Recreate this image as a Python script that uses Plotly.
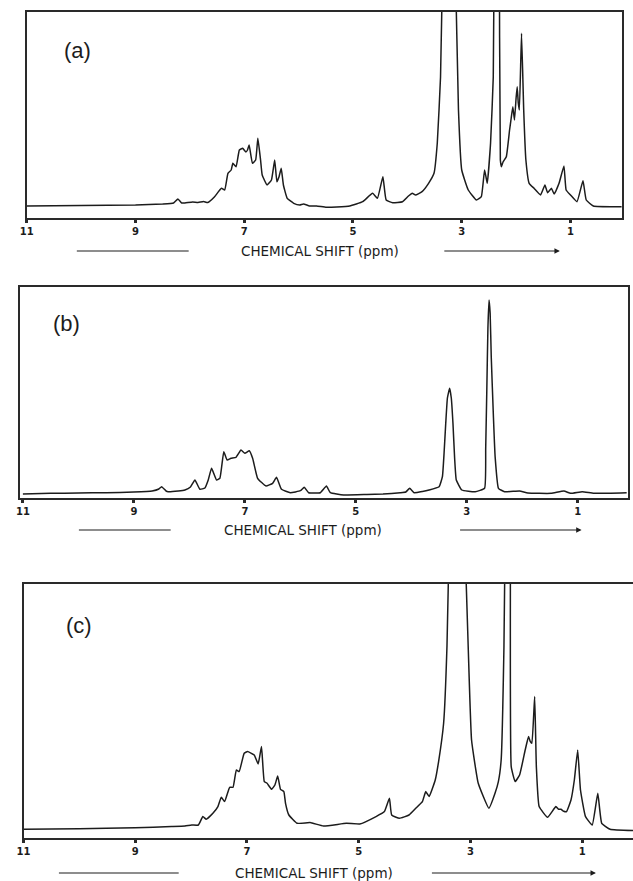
import plotly.graph_objects as go

# ---------------------------------------------------------------
# 1H NMR traces (chemical shift in ppm, relative intensity)
# ---------------------------------------------------------------
ppm_a = [11.0, 10.0, 9.0, 8.5, 8.3, 8.22, 8.15, 8.09, 7.95, 7.85, 7.75, 7.67, 7.55,
         7.42, 7.36, 7.30, 7.24, 7.21, 7.15, 7.09, 7.03, 6.97, 6.94, 6.91, 6.85, 6.79,
         6.75, 6.70, 6.67, 6.58, 6.50, 6.44, 6.40, 6.36, 6.32, 6.28, 6.21, 6.09, 5.98,
         5.91, 5.80, 5.67, 5.49, 5.30, 5.06, 4.82, 4.64, 4.55, 4.45, 4.39, 4.27, 4.09,
         3.98, 3.91, 3.85, 3.73, 3.61, 3.51, 3.45, 3.39, 3.35, 3.25, 3.12, 3.06, 3.00,
         2.88, 2.73, 2.64, 2.58, 2.55, 2.53, 2.47, 2.42, 2.40, 2.35, 2.31, 2.29, 2.27,
         2.24, 2.18, 2.12, 2.09, 2.06, 2.03, 2.00, 1.98, 1.96, 1.94, 1.90, 1.86, 1.82,
         1.76, 1.67, 1.55, 1.47, 1.42, 1.35, 1.30, 1.21, 1.12, 1.08, 1.00, 0.88, 0.77,
         0.71, 0.58, 0.06]
int_a = [12, 12.5, 13, 14, 15, 19, 15, 15, 16, 15.5, 16.5, 15.5, 21,
         29.7, 28, 44.7, 48, 54.7, 51.3, 68, 69.7, 66, 68, 73, 54.7, 58,
         79.7, 58, 43, 33, 38, 58, 36.3, 41.3, 49.7, 33, 19.7, 14.7, 13,
         14, 12, 12, 10.7, 11, 12, 16.3, 24.7, 19.7, 41.3, 18, 15.3, 16.3,
         22, 24.7, 23, 26.3, 34.7, 44.7, 74.7, 141, 260, 500, 260, 108, 48,
         28, 18, 21.3, 48, 40, 34.7, 74.7, 141, 300, 500, 300, 58, 51.3,
         56, 61.3, 88, 100, 111.3, 98, 120, 131.3, 115, 108, 184.7, 108, 58,
         34.7, 29.7, 23, 33, 25.3, 29.7, 24, 34.7, 52, 28, 23, 16.3, 37.3,
         18, 12, 11.3]

ppm_b = [11.0, 10.5, 10.0, 9.5, 9.0, 8.67, 8.55, 8.5, 8.42, 8.38, 8.2, 8.08, 7.98,
         7.90, 7.81, 7.72, 7.66, 7.60, 7.51, 7.45, 7.38, 7.32, 7.25, 7.16, 7.07, 7.00,
         6.92, 6.86, 6.77, 6.62, 6.50, 6.43, 6.34, 6.18, 6.00, 5.93, 5.85, 5.64, 5.53,
         5.46, 5.22, 4.80, 4.51, 4.20, 4.10, 4.03, 3.95, 3.80, 3.68, 3.50, 3.44, 3.41,
         3.38, 3.35, 3.31, 3.28, 3.25, 3.22, 3.19, 3.09, 2.85, 2.68, 2.66, 2.64, 2.62,
         2.60, 2.58, 2.56, 2.52, 2.49, 2.43, 2.32, 2.05, 1.90, 1.48, 1.25, 1.13, 0.92,
         0.71, 0.12]
int_b = [4, 4.7, 5, 5.3, 6, 7, 9, 11.3, 7, 6.3, 7, 8, 11,
         18, 8.7, 10, 18, 29.7, 18, 19.7, 46.3, 38, 39.7, 40.7, 48, 44.7,
         47.3, 39.7, 19.7, 12, 14.7, 20.7, 8.7, 5.3, 7.3, 10.7, 5.3, 5.3, 12,
         5.3, 3, 3.5, 4, 5.3, 6, 9.7, 5.3, 6.5, 8, 11.3, 21.3, 45,
         74.7, 100, 109.7, 100, 74.7, 40, 18, 8, 6.3, 9.7, 50, 108, 170,
         198, 185, 141.3, 80, 41.3, 9.7, 6.3, 7, 5, 4.7, 7, 4.7, 6.3,
         4.7, 5.3]

ppm_c = [11.0, 10.0, 9.52, 9.0, 8.35, 8.11, 7.99, 7.87, 7.79, 7.73, 7.61, 7.52, 7.46,
         7.40, 7.31, 7.25, 7.19, 7.14, 7.05, 6.99, 6.87, 6.80, 6.74, 6.69, 6.64, 6.56,
         6.50, 6.45, 6.40, 6.34, 6.31, 6.25, 6.10, 5.87, 5.63, 5.22, 4.98, 4.69, 4.54,
         4.45, 4.41, 4.27, 4.10, 3.98, 3.86, 3.80, 3.74, 3.63, 3.57, 3.48, 3.42, 3.38,
         3.25, 3.10, 3.04, 2.98, 2.86, 2.67, 2.56, 2.50, 2.45, 2.40, 2.36, 2.32, 2.285,
         2.27, 2.20, 2.12, 2.02, 1.96, 1.93, 1.90, 1.85, 1.82, 1.77, 1.62, 1.47, 1.42,
         1.38, 1.33, 1.28, 1.20, 1.14, 1.08, 1.03, 0.94, 0.82, 0.72, 0.65, 0.50, 0.09]
int_c = [9, 9.5, 10, 10.5, 11.7, 12.3, 13.3, 13.3, 21.7, 19, 25, 31.7, 41,
         36.7, 51, 51, 68.3, 66.7, 85, 86.7, 83.3, 74.3, 91.7, 56.7, 55, 49,
         53.3, 62.3, 49, 46.7, 35, 23.3, 15, 15.7, 12.3, 15, 14.3, 21.7, 26.7,
         40, 23.3, 20, 23.3, 30, 36.7, 46.7, 41.7, 58.3, 76.7, 115, 191.7, 300,
         600, 300, 191.7, 98.3, 55, 30, 45, 56.7, 78.3, 191.7, 400, 500, 300,
         71.7, 56.7, 63.3, 88.3, 101.7, 97, 95, 141.7, 71.7, 31.7, 21, 31.7, 29,
         29, 27, 26.7, 38.3, 58.3, 88.3, 48.3, 21.7, 13.3, 45, 15, 9, 7.7]

tick_vals = [11, 9, 7, 5, 3, 1]
tick_text = ["11", "9", "7", "5", "3", "1"]
panel_labels = ["(a)", "(b)", "(c)"]
axis_title = "CHEMICAL SHIFT (ppm)"

W, H = 633, 881
INK = "#1c1c1c"
FRAME = "#2a2a2a"


def px_x(x):
    return x / W


def px_y(y):
    return 1 - y / H


# panel geometry in page pixels: left, right, top, bottom(axis line)
panels = [
    dict(l=20, r=622, t=12, b=218, xr=[11.0, 0.05], yr=[0, 206], mirror_y=True,
         lab=(71, 50), title=(317, 251), lline=(70.6, 183.7), rarrow=(442, 559), ly=251),
    dict(l=12.7, r=627.7, t=287, b=498, xr=[11.06, 0.1], yr=[0, 211], mirror_y=True,
         lab=(60.5, 323), title=(299, 530), lline=(72.7, 165.5), rarrow=(458, 581), ly=530),
    dict(l=16.7, r=633, t=584, b=838.3, xr=[11.0, 0.09], yr=[0, 254.3], mirror_y=False,
         lab=(72.7, 625), title=(310, 873), lline=(52.5, 173.6), rarrow=(430, 595.5), ly=873),
]

series = [(ppm_a, int_a), (ppm_b, int_b), (ppm_c, int_c)]

fig = go.Figure()
layout = dict(
    width=W, height=H,
    margin=dict(l=0, r=0, t=0, b=0),
    paper_bgcolor="white", plot_bgcolor="white",
    showlegend=False,
    annotations=[], shapes=[],
)

for i, (p, (xs, ys)) in enumerate(zip(panels, series), start=1):
    xa = "x" if i == 1 else f"x{i}"
    ya = "y" if i == 1 else f"y{i}"
    fig.add_trace(go.Scatter(
        x=xs, y=ys, mode="lines", xaxis=xa, yaxis=ya,
        line=dict(color=INK, width=1.5, shape="spline", smoothing=0.35),
        hoverinfo="skip",
    ))
    xkey = "xaxis" if i == 1 else f"xaxis{i}"
    ykey = "yaxis" if i == 1 else f"yaxis{i}"
    layout[xkey] = dict(
        domain=[px_x(p["l"]), min(1.0, px_x(p["r"]))],
        range=p["xr"], anchor=ya,
        showgrid=False, zeroline=False,
        showline=True, linecolor=FRAME, linewidth=1.5, mirror=True,
        ticks="outside", ticklen=3, tickwidth=2.5, tickcolor=FRAME,
        tickvals=tick_vals, ticktext=tick_text,
        ticklabelstandoff=0,
        tickfont=dict(family="DejaVu Sans", size=10, color=INK, weight="bold"),
    )
    layout[ykey] = dict(
        domain=[px_y(p["b"]), px_y(p["t"])],
        range=p["yr"], anchor=xa,
        showgrid=False, zeroline=False,
        showline=True, linecolor=FRAME, linewidth=1.5, mirror=p["mirror_y"],
        showticklabels=False, ticks="",
    )

    # panel tag
    layout["annotations"].append(dict(
        text=panel_labels[i - 1], xref="paper", yref="paper",
        x=px_x(p["lab"][0]), y=px_y(p["lab"][1]),
        xanchor="center", yanchor="middle", showarrow=False,
        font=dict(family="Liberation Sans", size=22, color=INK),
    ))
    # axis caption
    layout["annotations"].append(dict(
        text=axis_title, xref="paper", yref="paper",
        x=px_x(p["title"][0]), y=px_y(p["title"][1]),
        xanchor="center", yanchor="middle", showarrow=False,
        font=dict(family="DejaVu Sans", size=13.5, color=INK),
    ))
    # plain rule to the left of the caption
    layout["shapes"].append(dict(
        type="line", xref="paper", yref="paper",
        x0=px_x(p["lline"][0]), x1=px_x(p["lline"][1]),
        y0=px_y(p["ly"]), y1=px_y(p["ly"]),
        line=dict(color=INK, width=1.2),
    ))
    # arrow to the right of the caption
    x0, x1 = p["rarrow"]
    layout["annotations"].append(dict(
        text="", xref="paper", yref="paper",
        x=px_x(x1), y=px_y(p["ly"]),
        ax=-(x1 - x0), ay=0, axref="pixel", ayref="pixel",
        showarrow=True, arrowhead=2, arrowsize=0.9, arrowwidth=1.2, arrowcolor=INK,
    ))

fig.update_layout(**layout)
fig.write_html("out.html")
